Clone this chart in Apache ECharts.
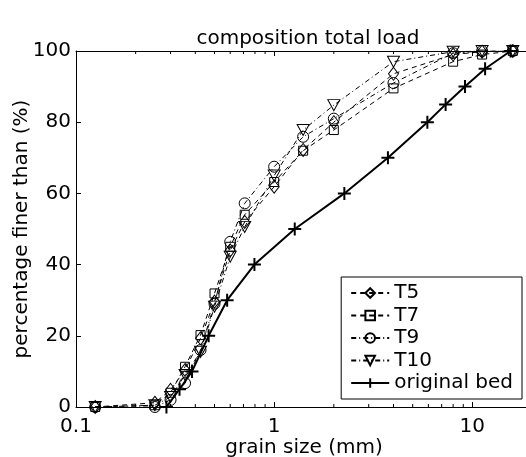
<!DOCTYPE html>
<html><head><meta charset="utf-8">
<script src="https://cdn.jsdelivr.net/npm/echarts@6/dist/echarts.min.js"></script>
<style>html,body{margin:0;padding:0;background:#fff}#c{width:526px;height:457px}</style>
</head><body><div id="c"></div>
<script>
const sieveSizes = [0.125, 0.25, 0.3, 0.355, 0.425, 0.5, 0.6, 0.71, 1.0, 1.4, 2.0, 4.0, 8.0, 11.2, 16];
const T5  = [0, 1.2, 4.8, 10.4, 19.3, 29.6, 44, 52, 61.9, 72.2, 80, 93.6, 99, 99.8, 100];
const T7  = [0, 0.5, 4.0, 11.3, 20.2, 31.9, 45, 54, 63.2, 72, 77.8, 89.5, 97, 99, 100];
const T9  = [0, 0, 2.0, 6.7, 16, 29, 46.4, 57.2, 67.5, 75.9, 81, 91, 99.4, 100, 100];
const T10 = [0, 0.5, 2.8, 9, 15.5, 28.2, 42.2, 50.6, 65, 77.8, 84.8, 97, 99.8, 100, 100];
const bedSizes = [0.286, 0.333, 0.385, 0.467, 0.579, 0.795, 1.27, 2.26, 3.75, 5.93, 7.33, 9.18, 11.6, 15.6];
const bedPct   = [0, 5, 10, 20, 30, 40, 50, 60, 70, 80, 85, 90, 95, 100];
const minorTicks = [0.2,0.3,0.4,0.5,0.6,0.7,0.8,0.9,2,3,4,5,6,7,8,9];
const majorTicks = [0.1, 1, 10];
const yTicks = [0, 20, 40, 60, 80, 100];

const FONT = 'DejaVu Sans';
const FS = 20;
const pair = (xs, ys) => xs.map((x, i) => [x, ys[i]]);
const hollow = {color: 'rgba(0,0,0,0)', borderColor: '#000', borderWidth: 1};

function testSeries(name, data, symbol, size, dash) {
  return {
    name, type: 'line', data: pair(sieveSizes, data), symbol, symbolSize: size,
    lineStyle: {color: '#000', width: 1, type: dash},
    itemStyle: hollow, showAllSymbol: true, animation: false, z: 3
  };
}

const chart = echarts.init(document.getElementById('c'), null, {renderer: 'canvas'});
chart.setOption({
  animation: false,
  textStyle: {fontFamily: FONT},
  title: {text: 'composition total load', left: 303, textAlign: 'center', top: 24,
    textStyle: {fontFamily: FONT, fontSize: FS, fontWeight: 'normal', color: '#000'}},
  grid: {left: 76, top: 51, bottom: 50, right: -6, containLabel: false, outerBoundsMode: 'none'},
  legend: {
    orient: 'vertical', right: 4, top: 277,
    data: ['T5', 'T7', 'T9', 'T10', 'original bed'],
    itemWidth: 38, itemHeight: 12, itemGap: 2.5,
    padding: [6, 9, 6, 9],
    borderColor: '#000', borderWidth: 1, backgroundColor: '#fff',
    textStyle: {fontFamily: FONT, fontSize: FS, color: '#000', lineHeight: 20},
  },
  xAxis: [{
    type: 'log', logBase: 10, min: 0.1, max: 20,
    name: 'grain size (mm)', nameLocation: 'middle', nameGap: 31, nameMoveOverlap: false,
    nameTextStyle: {fontFamily: FONT, fontSize: FS, color: '#000'},
    axisLine: {lineStyle: {color: '#000', width: 1}},
    axisTick: {inside: true, length: 5, lineStyle: {color: '#000'}},
    axisLabel: {color: '#000', fontSize: FS, fontFamily: FONT, margin: 10, showMaxLabel: false,
      formatter: v => v < 1 ? (+v).toFixed(1) : String(Math.round(v))},
    splitLine: {show: false}
  }, {
    type: 'log', logBase: 10, min: 0.1, max: 20, position: 'top',
    axisLine: {lineStyle: {color: '#000', width: 1}},
    axisTick: {inside: true, length: 5, lineStyle: {color: '#000'}},
    axisLabel: {show: false}, splitLine: {show: false}
  }],
  yAxis: {
    type: 'value', min: 0, max: 100, interval: 20,
    name: 'percentage finer than (%)', nameLocation: 'middle', nameGap: 44, nameMoveOverlap: false,
    nameTextStyle: {fontFamily: FONT, fontSize: FS, color: '#000'},
    axisLine: {show: true, lineStyle: {color: '#000', width: 1}},
    axisTick: {show: true, inside: true, length: 5, lineStyle: {color: '#000'}},
    axisLabel: {color: '#000', fontSize: FS, fontFamily: FONT, margin: 5},
    splitLine: {show: false}
  },
  series: [
    testSeries('T5', T5, 'diamond', [10, 13], [5, 4]),
    testSeries('T7', T7, 'rect', 9, [5, 4]),
    testSeries('T9', T9, 'circle', 11, [5, 3, 1, 3]),
    testSeries('T10', T10, 'path://M0,0 L10,0 L5,10 Z', [12, 11], [5, 3, 1, 3]),
    {
      name: 'original bed', type: 'line', data: pair(bedSizes, bedPct),
      symbol: 'path://M5,0 L5,10 M0,5 L10,5', symbolSize: 13, showAllSymbol: true,
      lineStyle: {color: '#000', width: 2},
      itemStyle: {color: 'rgba(0,0,0,0)', borderColor: '#000', borderWidth: 2}, z: 4
    },
    {
      type: 'custom', silent: true, z: 1, clip: false,
      data: minorTicks.map(v => [v]),
      renderItem: (params, api) => {
        const v = api.value(0);
        const b = api.coord([v, 0]);
        const t = api.coord([v, 100]);
        return {type: 'group', children: [
          {type: 'line', shape: {x1: b[0], y1: b[1], x2: b[0], y2: b[1] - 3}, style: {stroke: '#000', lineWidth: 1}},
          {type: 'line', shape: {x1: t[0], y1: t[1], x2: t[0], y2: t[1] + 3}, style: {stroke: '#000', lineWidth: 1}}
        ]};
      }
    }
  ]
});
</script></body></html>
